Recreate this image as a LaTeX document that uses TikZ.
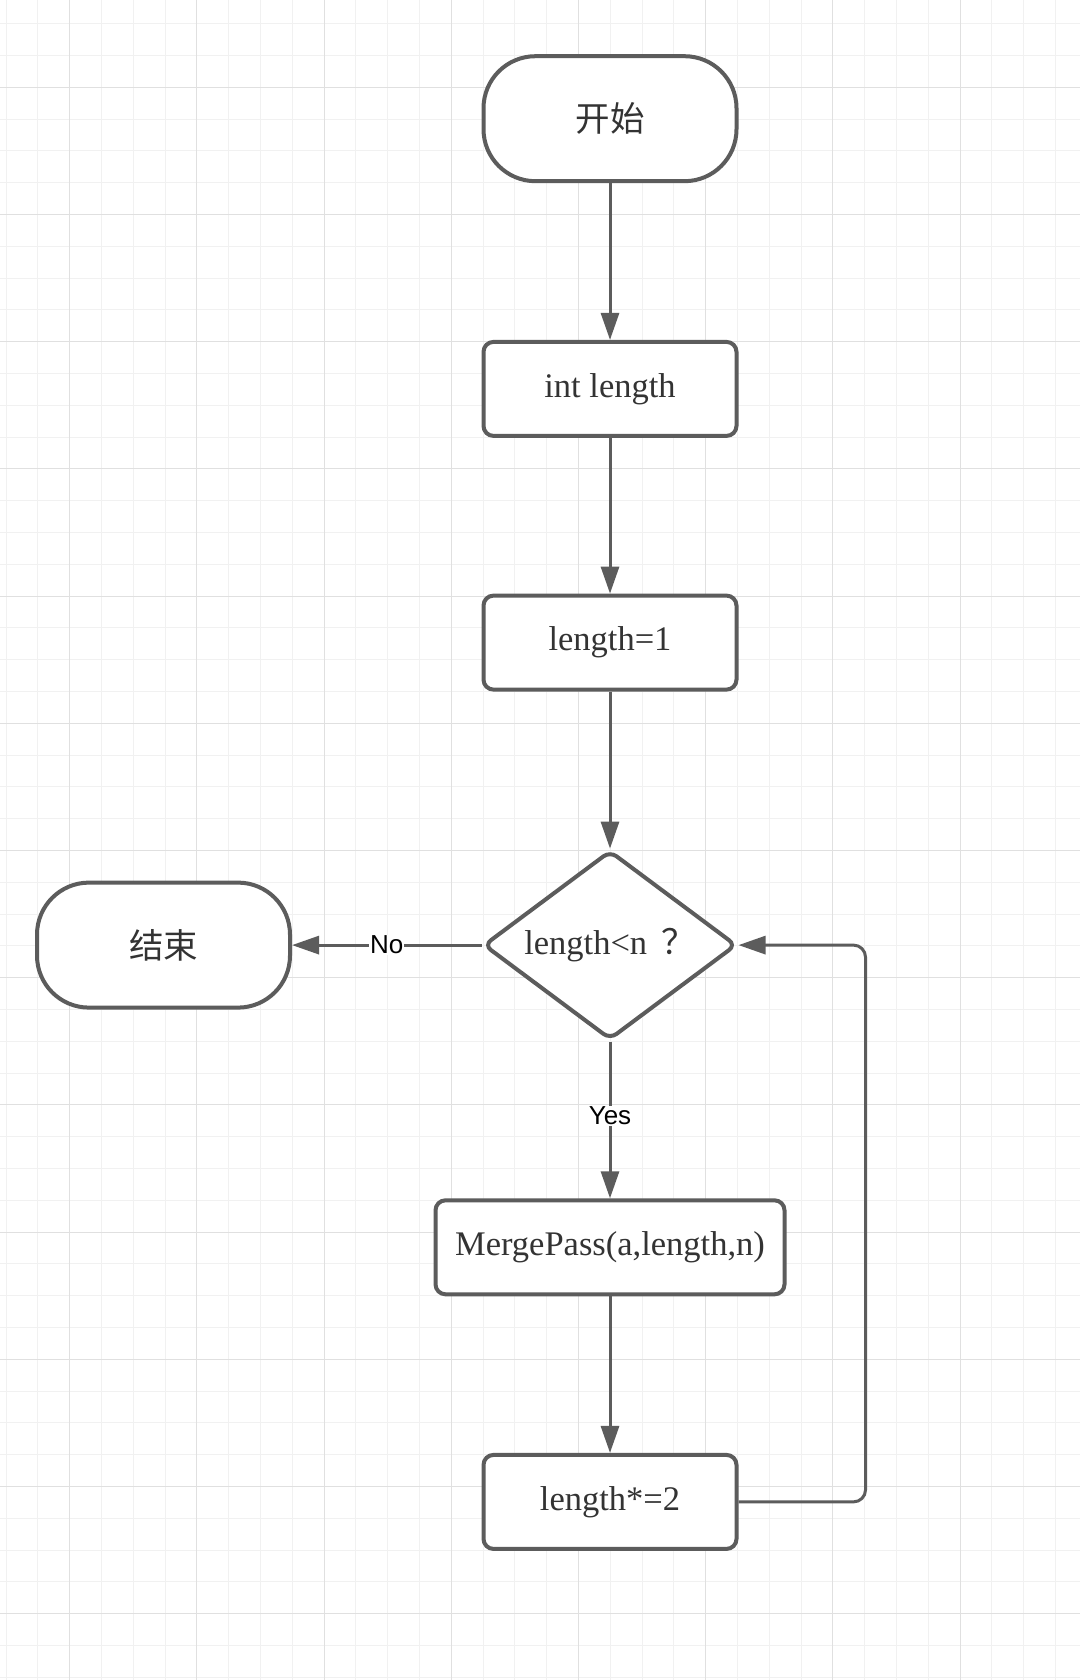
\documentclass[tikz,border=0pt]{standalone}
\usepackage{fontspec}
\setmainfont{Liberation Serif}
\setsansfont{Liberation Sans}
\newfontfamily\cjk{Noto Sans CJK SC}
\usetikzlibrary{shapes.geometric, positioning, arrows.meta}
\definecolor{linegray}{RGB}{92,92,92}
\definecolor{textgray}{RGB}{51,51,51}
\definecolor{gridminor}{RGB}{241,241,241}
\definecolor{gridmajor}{RGB}{224,224,224}
\tikzset{
  fnode/.style = {align=center, inner sep=0pt, text centered, text=textgray, draw=linegray, fill=white, line width=4pt, font=\fontsize{34.5}{40}\selectfont},
  tterm/.style = {fnode, rectangle, rounded corners=52pt, minimum width=253pt, minimum height=125pt},
  tbox/.style = {fnode, rectangle, rounded corners=10pt, minimum width=253pt, minimum height=94pt},
  tcond/.style = {fnode, diamond, aspect=1.34, rounded corners=8pt, minimum width=253pt, minimum height=189pt},
  tedge/.style = {->, draw=linegray, line width=3pt},
  tlabel/.style = {fill=white, text=black, inner sep=1pt, font=\sffamily\fontsize{26}{30}\selectfont},
  gminor/.style = {draw=gridminor, line width=1pt},
  gmajor/.style = {draw=gridmajor, line width=1pt},
}

\begin{document}
\begin{tikzpicture}[x=1pt, y=-1pt, >={Triangle[length=27pt, width=18pt]}]
\useasboundingbox (0,0) rectangle (1080,1680);
\fill[white] (0,0) rectangle (1080,1680);
\foreach \i in {-2,...,31} \draw[gminor] ({69.6+31.8*\i},0) -- ({69.6+31.8*\i},1680);
\foreach \j in {-2,...,50} \draw[gminor] (0,{87.3+31.8*\j}) -- (1080,{87.3+31.8*\j});
\foreach \i in {0,...,7} \draw[gmajor] ({69.6+127.2*\i},0) -- ({69.6+127.2*\i},1680);
\foreach \j in {0,...,12} \draw[gmajor] (0,{87.3+127.2*\j}) -- (1080,{87.3+127.2*\j});

\node [tterm] (S) at (610,118.7) {\cjk 开始};
\node [tbox, below=156.7pt of S] (A) {int length};
\node [tbox, below=155.7pt of A] (B) {length=1};
\node [tcond, below=157pt of B] (C) {\raisebox{2pt}{length<n\hspace{14pt}{\cjk ？}}};
\node [tbox, below=156.7pt of C, minimum width=349pt] (M) {MergePass(a,length,n)};
\node [tbox, below=156.6pt of M] (D) {length*=2};
\node [tterm, left=189.5pt of C] (E) {\cjk 结束};

\draw[tedge] (S) -- (A);
\draw[tedge] (A) -- (B);
\draw[tedge] (B) -- (C);
\draw[tedge] (C) -- node [tlabel, yshift=4pt] {Yes} (M);
\draw[tedge] (M) -- (D);
\draw[tedge] (C) -- node [tlabel] {No} (E);
\draw[tedge, rounded corners=12pt] (D.east) -- ++(127pt,0) |- (C.east);
\end{tikzpicture}
\end{document}
